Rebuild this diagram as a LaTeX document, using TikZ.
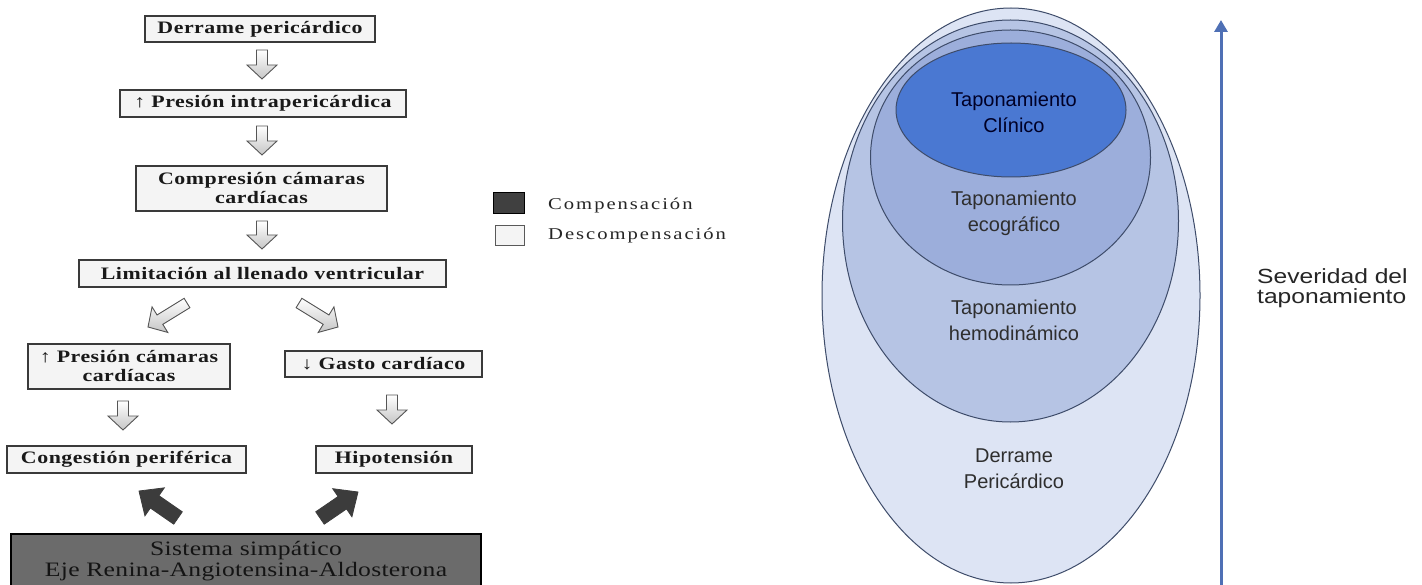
\documentclass[tikz,border=0pt]{standalone}
\usepackage{fontspec}
\setmainfont{Liberation Serif}
\newfontfamily\flowfont[FakeStretch=1.25,LetterSpace=3]{Liberation Serif}
\newfontfamily\legfont[FakeStretch=1.25,LetterSpace=12]{Liberation Serif}
\newfontfamily\sysfont[FakeStretch=1.25,LetterSpace=1.5]{Liberation Serif}
\newfontfamily\ellfont{Liberation Sans}
\newfontfamily\sevfont[FakeStretch=1.2]{Liberation Sans}
\usetikzlibrary{calc,arrows.meta}
\definecolor{boxfill}{HTML}{F4F4F4}
\definecolor{boxline}{HTML}{3A3A3A}
\definecolor{darkfill}{HTML}{6B6B6B}
\definecolor{darkarrow}{HTML}{3C3C3C}
\definecolor{arrline}{HTML}{555555}
\definecolor{ellA}{HTML}{DDE4F4}
\definecolor{ellB}{HTML}{B6C4E4}
\definecolor{ellC}{HTML}{9CAEDB}
\definecolor{ellD}{HTML}{4A78D2}
\definecolor{ellline}{HTML}{3E4C6A}
\definecolor{sevblue}{HTML}{4F70B5}
\definecolor{legdark}{HTML}{404040}
\tikzset{
  ba shaft/.store in=\bashaft, ba head/.store in=\bahead, ba len/.store in=\balen,
  ba shaft=5.5pt, ba head=15pt, ba len=14pt,
  blockarrow/.style={to path={
    ($(\tikztotarget)!\balen!(\tikztostart)$) coordinate (bah)
    ($(\tikztostart)!\bashaft!90:(\tikztotarget)$)
    -- ($(bah)!\bashaft!-90:(\tikztostart)$)
    -- ($(bah)!\bahead!-90:(\tikztostart)$)
    -- (\tikztotarget)
    -- ($(bah)!\bahead!90:(\tikztostart)$)
    -- ($(bah)!\bashaft!90:(\tikztostart)$)
    -- ($(\tikztostart)!\bashaft!-90:(\tikztotarget)$) -- cycle}},
  lightarrow/.style={blockarrow, draw=arrline, line width=0.9pt, top color=white, bottom color=gray!45},
  darkblock/.style={blockarrow, ba shaft=7.5pt, ba head=17pt, ba len=19pt, draw=darkarrow, line width=0.8pt, fill=darkarrow},
  flowbox/.style={draw=boxline, line width=1.3pt, fill=boxfill, inner sep=0pt, align=center,
    text=black!90, font=\flowfont\bfseries\fontsize{17.5}{19}\selectfont},
  elltext/.style={align=center, inner sep=0pt, font=\ellfont\fontsize{20}{26}\selectfont, text=black!82},
}
\begin{document}
\begin{tikzpicture}[x=1pt,y=-1pt]
\clip (0,0) rectangle (1422,585);
\fill[white] (0,0) rectangle (1422,585);

% ---------- left flowchart ----------
\node[flowbox, minimum width=230, minimum height=26] (b1) at (260,29) {Derrame pericárdico};
\node[flowbox, minimum width=286, minimum height=27] (b2) at (263,103.5) {↑ Presión intrapericárdica};
\node[flowbox, minimum width=251, minimum height=45] (b3) at (261.5,188.5) {Compresión cámaras\\cardíacas};
\node[flowbox, minimum width=367, minimum height=27] (b4) at (262.5,273.5) {Limitación al llenado ventricular};
\node[flowbox, minimum width=202, minimum height=45] (b5) at (129,366.5) {↑ Presión cámaras\\cardíacas};
\node[flowbox, minimum width=197, minimum height=26] (b6) at (383.5,364) {↓ Gasto cardíaco};
\node[flowbox, minimum width=239, minimum height=27] (b7) at (126.5,459.5) {Congestión periférica};
\node[flowbox, minimum width=156, minimum height=27] (b8) at (394,459.5) {Hipotensión};
\node[draw=black, line width=2.5pt, fill=darkfill, inner sep=0pt, align=center, text=black!92,
      minimum width=470, minimum height=54, font=\sysfont\fontsize{20.5}{21}\selectfont]
      (sys) at (246,561) {Sistema simpático\\Eje Renina-Angiotensina-Aldosterona};

% arrow end points
\coordinate (a1s) at (262,50);  \coordinate (a1e) at (262,79);
\coordinate (a2s) at (262,126); \coordinate (a2e) at (262,155);
\coordinate (a3s) at (262,221); \coordinate (a3e) at (262,249);
\coordinate (d1s) at (187,303); \coordinate (d1e) at (148,327);
\coordinate (d2s) at (299,303); \coordinate (d2e) at (338,327);
\coordinate (a4s) at (123,401); \coordinate (a4e) at (123,430);
\coordinate (a5s) at (392,395); \coordinate (a5e) at (392,424);
\coordinate (k1s) at (178,518); \coordinate (k1e) at (139,491);
\coordinate (k2s) at (320,518); \coordinate (k2e) at (358,492);

\draw[lightarrow] (a1s) to (a1e);
\draw[lightarrow] (a2s) to (a2e);
\draw[lightarrow] (a3s) to (a3e);
\draw[lightarrow] (d1s) to (d1e);
\draw[lightarrow] (d2s) to (d2e);
\draw[lightarrow] (a4s) to (a4e);
\draw[lightarrow] (a5s) to (a5e);
\draw[darkblock] (k1s) to (k1e);
\draw[darkblock] (k2s) to (k2e);

% legend
\node[draw=black, line width=1pt, fill=legdark, minimum width=31, minimum height=21, inner sep=0pt] (lgc) at (508.5,203.5) {};
\node[draw=gray!70!black, line width=0.8pt, fill=boxfill, minimum width=29, minimum height=20, inner sep=0pt] (lgd) at (509.5,235) {};
\node[anchor=west, inner sep=0pt, font=\legfont\fontsize{16.5}{18}\selectfont, text=black!85] (lgct) at (548,206) {Compensación};
\node[anchor=west, inner sep=0pt, font=\legfont\fontsize{16.5}{18}\selectfont, text=black!85] (lgdt) at (548,236) {Descompensación};

% ---------- right: nested ellipses ----------
\draw[ellline, line width=1pt, fill=ellA] (1011,295.5) ellipse [x radius=189, y radius=287.5];
\draw[ellline, line width=1pt, fill=ellB] (1010.5,221) ellipse [x radius=168, y radius=201];
\draw[ellline, line width=1pt, fill=ellC] (1010.5,157.5) ellipse [x radius=140, y radius=127.5];
\draw[ellline, line width=1pt, fill=ellD] (1011,110) ellipse [x radius=115, y radius=67];

\node[elltext, text=black!85!blue] (tc) at (1014,112) {Taponamiento\\Clínico};
\node[elltext] (te) at (1014,213) {Taponamiento\\ecográfico};
\node[elltext] (th) at (1014,320.5) {Taponamiento\\hemodinámico};
\node[elltext] (td) at (1014,469) {Derrame\\Pericárdico};

\coordinate (sevbot) at (1221,590);
\coordinate (sevtop) at (1221,20);
\draw[sevblue, line width=3pt, -{Triangle[width=13pt,length=12pt]}] (sevbot) -- (sevtop);
\node[anchor=west, align=left, inner sep=0pt, font=\sevfont\fontsize{20.5}{20}\selectfont, text=black!85] (sev) at (1257,288) {Severidad del\\taponamiento};
\end{tikzpicture}
\end{document}
